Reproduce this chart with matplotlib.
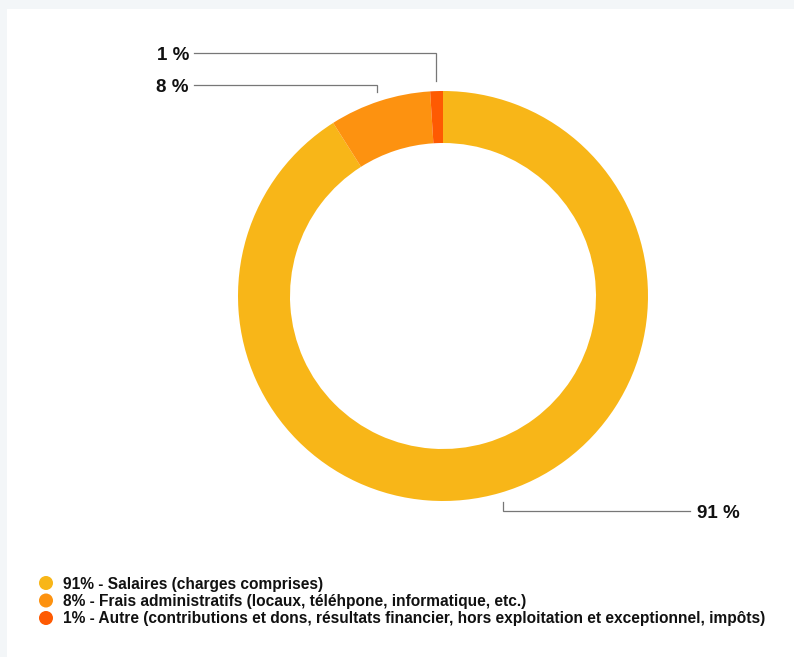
import matplotlib.pyplot as plt
import numpy as np
from matplotlib.patches import Rectangle

W, H = 794, 657

values = [91, 8, 1]
slice_labels = ['91 %', '8 %', '1 %']
legend_labels = [
    '91% - Salaires (charges comprises)',
    '8% - Frais administratifs (locaux, téléhpone, informatique, etc.)',
    '1% - Autre (contributions et dons, résultats financier, hors exploitation et exceptionnel, impôts)',
]
colors = ['#F8B618', '#FD9210', '#FE5A02']

plt.rcParams['font.family'] = ['Liberation Sans', 'DejaVu Sans']

fig = plt.figure(figsize=(W / 100, H / 100), dpi=100, facecolor='#f3f6f8')
# white card, light grey strip on top and left
fig.patches.append(Rectangle((7 / W, 0), 1, 1 - 9 / H, transform=fig.transFigure,
                             facecolor='white', edgecolor='none', zorder=-5))

ax = fig.add_axes([0, 0, 1, 1])
ax.patch.set_alpha(0)

# work in pixel units, y measured from the bottom
cx, cy, r = 443, H - 296, 205
wedges, _ = ax.pie(values, colors=colors, startangle=90, counterclock=False,
                   center=(cx, cy), radius=r,
                   wedgeprops=dict(width=52, linewidth=0))
ax.set_xlim(0, W)
ax.set_ylim(0, H)
ax.set_aspect('equal')
ax.axis('off')

# leader lines + labels
label_y = [511, 85, 53]  # pixel rows from the top
for w, lab, ly in zip(wedges, slice_labels, label_y):
    mid = np.deg2rad((w.theta1 + w.theta2) / 2)
    x0 = cx + (r + 10) * np.cos(mid)
    y0 = cy + (r + 10) * np.sin(mid)
    yl = H - ly
    if x0 > cx:
        x1, tx, ha = 690, 697, 'left'
    else:
        x1, tx, ha = 194, 189, 'right'
    ax.plot([x0, x0, x1], [y0, yl, yl], color='#777777', lw=0.9, solid_joinstyle='miter')
    ax.text(tx, yl - 7, lab, ha=ha, va='baseline', fontsize=13.5, fontweight='bold',
            color='#111111')

# legend
for i, (lab, c) in enumerate(zip(legend_labels, colors)):
    yy = H - (583 + i * 17.5)
    ax.scatter([46], [yy], s=14 ** 2 * 0.52, color=c, edgecolors='none')
    ax.text(63, yy - 5.5, lab, ha='left', va='baseline', fontsize=11.2,
            fontweight='bold', color='#111111')

fig.savefig('out.png', dpi=100, facecolor=fig.get_facecolor())
